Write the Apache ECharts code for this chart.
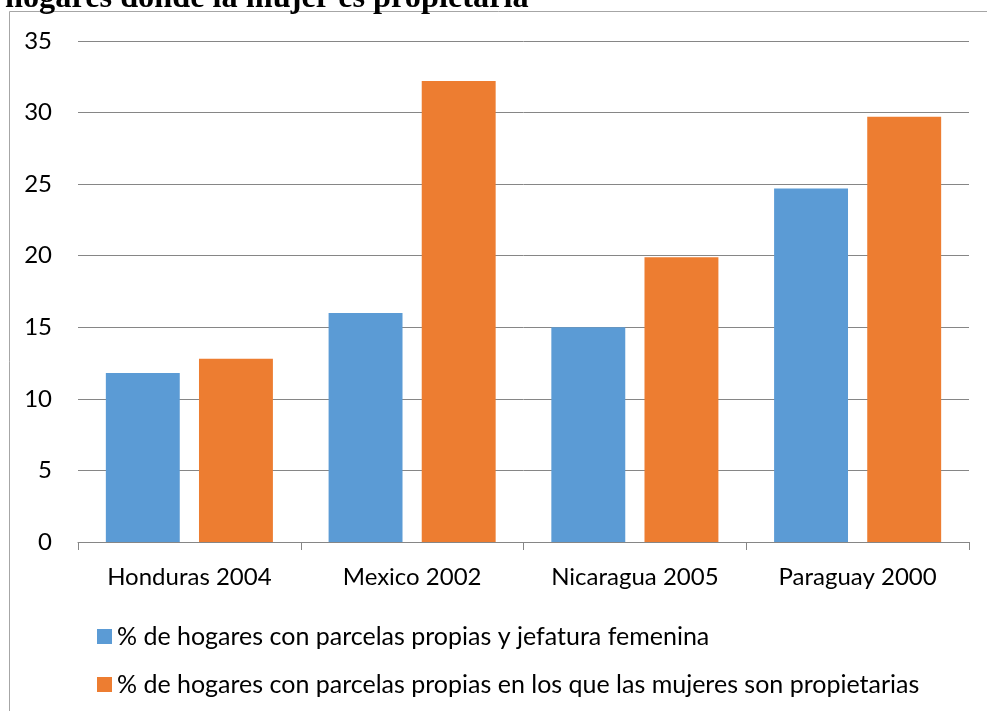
<!DOCTYPE html>
<html><head><meta charset="utf-8">
<script src="https://cdn.jsdelivr.net/npm/echarts@6/dist/echarts.min.js"></script>
<style>html,body{margin:0;padding:0;background:#fff}#c{width:987px;height:711px}</style>
</head><body><div id="c"></div>
<script>
const titleText = 'hogares donde la mujer es propietaria';
const categories = ['Honduras 2004', 'Mexico 2002', 'Nicaragua 2005', 'Paraguay 2000'];
const seriesNames = ['% de hogares con parcelas propias y jefatura femenina',
  '% de hogares con parcelas propias en los que las mujeres son propietarias'];
const jefaturaFemenina = [11.8, 16.0, 15.0, 24.7];
const mujeresPropietarias = [12.8, 32.2, 19.9, 29.7];
const yTicks = [0, 5, 10, 15, 20, 25, 30, 35];

const chart = echarts.init(document.getElementById('c'));
const font = 'Lato, "Open Sans", sans-serif';
chart.setOption({
  animation: false,
  title: {text: titleText, left: 0, top: -22,
    textStyle: {fontFamily: '"Liberation Serif", serif', fontWeight: 'bold', fontSize: 32.3, color: '#000'}},
  graphic: [{type: 'rect', shape: {x: 9.5, y: 11.5, width: 1100, height: 900},
    style: {fill: 'none', stroke: '#a6a6a6', lineWidth: 1}, silent: true}],
  grid: {left: 78, right: 18, top: 41, bottom: 169},
  legend: {orient: 'vertical', left: 92, top: 619, itemGap: 23, itemWidth: 15, itemHeight: 15,
    icon: 'rect', textStyle: {fontFamily: font, fontSize: 25, color: '#000'}},
  xAxis: {type: 'category', data: categories,
    axisLine: {lineStyle: {color: '#868686'}},
    axisTick: {show: true, length: 8, lineStyle: {color: '#868686'}},
    axisLabel: {fontFamily: font, fontSize: 24, color: '#000', margin: 23}},
  yAxis: {type: 'value', min: yTicks[0], max: yTicks[yTicks.length-1], interval: 5,
    axisLine: {show: false}, axisTick: {show: false},
    axisLabel: {fontFamily: font, fontSize: 24, color: '#000', margin: 26, align: 'right'},
    splitLine: {lineStyle: {color: '#868686'}}},
  series: [
    {name: seriesNames[0], type: 'bar', data: jefaturaFemenina, itemStyle: {color: '#5B9BD5'},
      barGap: '26%', barCategoryGap: '25%'},
    {name: seriesNames[1], type: 'bar', data: mujeresPropietarias, itemStyle: {color: '#ED7D31'}}
  ]
});
</script></body></html>
